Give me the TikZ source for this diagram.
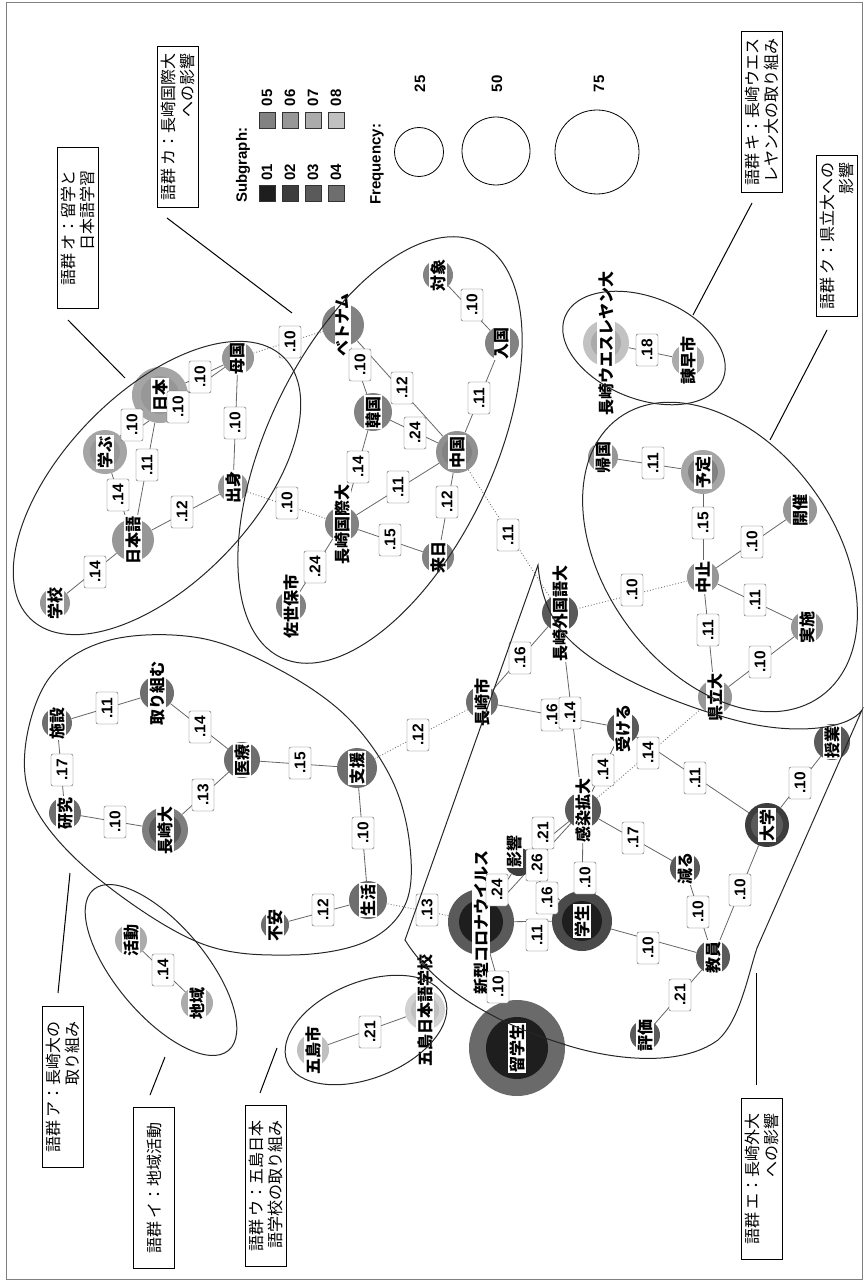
\documentclass[tikz,border=0pt]{standalone}
\usepackage{fontspec}
\newfontfamily\jp{Noto Sans CJK JP}
\newfontfamily\numf{Liberation Sans}
\usetikzlibrary{calc,backgrounds}
\definecolor{sg1}{HTML}{1E1E1E}
\definecolor{sg2}{HTML}{3D3D3D}
\definecolor{sg3}{HTML}{5A5A5A}
\definecolor{sg4}{HTML}{6E6E6E}
\definecolor{sg5}{HTML}{828282}
\definecolor{sg6}{HTML}{979797}
\definecolor{sg7}{HTML}{ABABAB}
\definecolor{sg8}{HTML}{C0C0C0}
\definecolor{hl2}{HTML}{4A4A4A}
\definecolor{hl3}{HTML}{6A6A6A}
\definecolor{hl4}{HTML}{7E7E7E}
\definecolor{hl5}{HTML}{909090}
\definecolor{hl6}{HTML}{A5A5A5}
\definecolor{hl7}{HTML}{C2C2C2}
\definecolor{hl8}{HTML}{D2D2D2}
\newcounter{elc}
\newcommand\kn[5]{\node[circle,fill=#4,inner sep=0pt,minimum size={2*#3pt}] (#1) at (#2) {};\node[nlbl] (#1-l) at (#2) {#5};}
\newcommand\kk[7]{\node[circle,fill=#4,inner sep=0pt,minimum size={2*#3pt}] (#1) at (#2) {};\node[circle,fill=#6,inner sep=0pt,minimum size={2*#5pt}] (#1-i) at (#2) {};\node[nlbl] (#1-l) at (#2) {#7};}
\newcommand\ed[5]{\begin{pgfonlayer}{background}\draw[#1] (#2) -- (#3);\end{pgfonlayer}\stepcounter{elc}\node[elbl] (el\arabic{elc}) at (#4) {#5};}
\begin{document}
\begin{tikzpicture}[x=1pt,y=-1pt,
 nlbl/.style={fill=white,inner sep=1pt,rotate=90,font=\jp\bfseries\fontsize{16}{16}\selectfont},
 elbl/.style={draw=black!65,fill=white,rounded corners=2pt,rotate=90,inner sep=1pt,minimum width=32pt,minimum height=22pt,font=\numf\bfseries\fontsize{15.5}{15.5}\selectfont},
 sol/.style={draw=black!60,line width=0.8pt},
 dotl/.style={draw=black!55,line width=0.9pt,dotted},
 hull/.style={draw=black!85,line width=1pt},
 anno/.style={draw=black,line width=0.8pt,fill=white,rotate=90,align=right,inner sep=2pt,minimum width=161pt,minimum height=41pt,font=\jp\fontsize{16}{19}\selectfont},
 lead/.style={draw=black,line width=1pt},
 lgd/.style={rotate=90,inner sep=0pt,font=\numf\bfseries\fontsize{15}{15}\selectfont},
 sq/.style={draw=black!80,line width=0.6pt,minimum size=16pt,inner sep=0pt},
 fc/.style={circle,draw=black,line width=0.8pt,inner sep=0pt}
]
\useasboundingbox (0,0) rectangle (864,1281);
\draw[black!50,line width=0.8pt] (6,2) rectangle (862,1279);

% ---------- nodes ----------
\kn{gakko}{55,603}{15}{sg6}{学校}
\kn{nihongo}{133,540}{21}{sg6}{日本語}
\kk{manabu}{105,452}{22}{hl6}{15}{sg6}{学ぶ}
\kk{nihon}{160,395}{28}{hl6}{19}{sg6}{日本}
\kn{bokoku}{238,358}{16}{sg6}{母国}
\kn{shusshin}{233,487}{15}{sg6}{出身}
\kn{vietnam}{343,325}{21}{sg5}{ベトナム}
\kn{taisho}{438,275}{15}{sg5}{対象}
\kn{nyukoku}{502,343}{17}{sg5}{入国}
\kn{kankoku}{373,412}{19}{sg5}{韓国}
\kk{chugoku}{457,452}{21}{hl5}{15}{sg5}{中国}
\kn{nkokusai}{342,524}{17}{sg5}{長崎国際大}
\kn{rainichi}{438,557}{16}{sg5}{来日}
\kn{sasebo}{291,606}{15}{sg5}{佐世保市}
\kk{wesleyan}{606,343}{23}{hl7}{15}{sg7}{長崎ウエスレヤン大}
\kn{isahaya}{688,360}{16}{sg7}{諫早市}
\kn{kikoku}{603,457}{15}{sg6}{帰国}
\kk{yotei}{703,472}{22}{hl6}{15}{sg5}{予定}
\kn{kaisai}{800,510}{17}{sg6}{開催}
\kn{chushi}{703,577}{16}{sg6}{中止}
\kn{jisshi}{807,627}{16}{sg6}{実施}
\kn{kenritsu}{715,697}{17}{sg6}{県立大}
\kn{gaidai}{560,613}{18}{sg3}{長崎外国語大}
\kn{nagasakishi}{482,702}{16}{sg4}{長崎市}
\kn{ukeru}{623,728}{16}{sg3}{受ける}
\kn{kansen}{583,810}{18}{sg3}{感染拡大}
\node[circle,fill=sg2,inner sep=0pt,minimum size=28pt] (eikyo) at (519,862) {};
\node[nlbl] (eikyo-l) at (514,851) {影響};
\kk{corona}{481,922}{33}{sg3}{22}{sg1}{新型コロナウイルス}
\kk{gakusei}{582,921}{30}{hl2}{20}{sg1}{学生}
\kk{ryugaku}{517,1048}{48}{hl3}{31}{sg1}{留学生}
\kn{heru}{685,868}{15}{sg3}{減る}
\kk{daigaku}{767,825}{22}{sg2}{16}{sg3}{大学}
\kn{jugyo}{832,742}{18}{sg3}{授業}
\kn{kyoin}{713,957}{17}{sg3}{教員}
\kn{hyoka}{645,1035}{15}{sg3}{評価}
\kn{shisetsu}{57,723}{15}{sg4}{施設}
\kn{torikumu}{157,693}{17}{sg4}{取り組む}
\kn{iryo}{242,760}{18}{sg4}{医療}
\kk{nagadai}{165,830}{23}{hl4}{16}{sg3}{長崎大}
\kn{kenkyu}{65,813}{16}{sg4}{研究}
\kn{shien}{357,768}{20}{sg4}{支援}
\kn{seikatsu}{368,900}{19}{sg4}{生活}
\kn{fuan}{275,925}{14}{sg4}{不安}
\kn{katsudo}{131,940}{16}{sg7}{活動}
\kn{chiiki}{197,1003}{16}{sg7}{地域}
\kn{gotoshi}{313,1050}{16}{sg8}{五島市}
\kk{gotojls}{425,1010}{20}{hl8}{14}{sg8}{五島日本語学校}

% ---------- edges ----------
\ed{sol}{gakko}{nihongo}{95,572}{.14}
\ed{sol}{nihongo}{manabu}{118,495}{.14}
\ed{sol}{nihongo}{nihon}{147,465}{.11}
\ed{sol}{manabu}{nihon}{132,425}{.10}
\ed{sol}{manabu}{bokoku}{178,407}{.10}
\ed{sol}{nihon}{bokoku}{200,377}{.10}
\ed{sol}{nihongo}{shusshin}{182,512}{.12}
\ed{sol}{shusshin}{bokoku}{235,423}{.10}
\ed{dotl}{shusshin}{nkokusai}{287,503}{.10}
\ed{dotl}{bokoku}{vietnam}{290,342}{.10}
\ed{sol}{taisho}{nyukoku}{472,305}{.10}
\ed{sol}{nyukoku}{chugoku}{479,398}{.11}
\ed{sol}{vietnam}{chugoku}{402,388}{.12}
\ed{sol}{vietnam}{kankoku}{360,365}{.10}
\ed{sol}{kankoku}{chugoku}{415,433}{.24}
\ed{sol}{kankoku}{nkokusai}{358,467}{.14}
\ed{sol}{nkokusai}{chugoku}{398,487}{.11}
\ed{sol}{chugoku}{rainichi}{447,502}{.12}
\ed{sol}{nkokusai}{rainichi}{390,540}{.15}
\ed{sol}{nkokusai}{sasebo}{315,567}{.24}
\ed{dotl}{chugoku}{gaidai}{508,535}{.11}
\ed{sol}{wesleyan}{isahaya}{647,350}{.18}
\ed{sol}{kikoku}{yotei}{653,463}{.11}
\ed{sol}{yotei}{chushi}{703,523}{.15}
\ed{sol}{chushi}{kaisai}{752,542}{.10}
\ed{sol}{chushi}{jisshi}{755,600}{.11}
\ed{sol}{chushi}{kenritsu}{708,630}{.11}
\ed{sol}{kenritsu}{jisshi}{760,662}{.10}
\ed{dotl}{chushi}{gaidai}{632,590}{.10}
\ed{sol}{nagasakishi}{gaidai}{520,658}{.16}
\ed{sol}{nagasakishi}{ukeru}{552,715}{.16}
\ed{sol}{gaidai}{kansen}{570,713}{.14}
\ed{dotl}{nagasakishi}{shien}{418,735}{.12}
\ed{sol}{ukeru}{kansen}{603,770}{.14}
\ed{dotl}{kansen}{kenritsu}{648,753}{.14}
\ed{sol}{ukeru}{daigaku}{695,778}{.11}
\ed{sol}{daigaku}{jugyo}{800,783}{.10}
\ed{sol}{kansen}{heru}{633,838}{.17}
\ed{sol}{kansen}{gakusei}{585,878}{.10}
\ed{sol}{heru}{kyoin}{698,912}{.10}
\ed{sol}{daigaku}{kyoin}{740,890}{.10}
\ed{sol}{gakusei}{kyoin}{648,948}{.10}
\ed{sol}{kyoin}{hyoka}{680,995}{.21}
\ed{sol}{eikyo}{kansen}{543,833}{.21}
\ed{sol}{corona}{kansen}{537,865}{.26}
\ed{sol}{corona}{eikyo}{497,890}{.24}
\ed{sol}{eikyo}{gakusei}{547,898}{.16}
\ed{sol}{corona}{gakusei}{537,935}{.11}
\ed{sol}{corona}{ryugaku}{498,987}{.10}
\ed{dotl}{corona}{seikatsu}{427,910}{.13}
\ed{sol}{shisetsu}{torikumu}{107,708}{.11}
\ed{sol}{shisetsu}{kenkyu}{62,770}{.17}
\ed{sol}{torikumu}{iryo}{200,727}{.14}
\ed{sol}{iryo}{nagadai}{203,795}{.13}
\ed{sol}{kenkyu}{nagadai}{115,822}{.10}
\ed{sol}{iryo}{shien}{300,763}{.15}
\ed{sol}{shien}{seikatsu}{363,833}{.10}
\ed{sol}{seikatsu}{fuan}{323,910}{.12}
\ed{sol}{katsudo}{chiiki}{163,970}{.14}
\ed{sol}{gotoshi}{gotojls}{370,1032}{.21}

% ---------- group outlines ----------
\draw[hull,rotate around={46:(157,488)}] (157,488) ellipse [x radius=182pt,y radius=95pt];
\draw[hull,rotate around={64.5:(380,450)}] (380,450) ellipse [x radius=230pt,y radius=113pt];
\draw[hull,rotate around={-21.5:(644,348)}] (644,348) ellipse [x radius=85pt,y radius=51pt];
\draw[hull,rotate around={-54:(720,557)}] (720,557) ellipse [x radius=172pt,y radius=115pt];
\draw[hull,rotate around={-50:(161,970)}] (161,970) ellipse [x radius=105pt,y radius=45pt];
\draw[hull,rotate around={22:(366,1030)}] (366,1030) ellipse [x radius=85pt,y radius=48pt];
\draw[hull] plot[smooth cycle,tension=0.6] coordinates {(25,750) (38,813) (100,880) (200,943) (290,955) (365,942) (405,905) (410,847) (392,780) (347,717) (280,670) (200,638) (110,640) (50,677)};
\draw[hull] (538,565) -- (405,940) .. controls (430,980) and (480,1018) .. (560,1043) .. controls (610,1060) and (680,1068) .. (718,1040) .. controls (740,1020) and (748,975) .. (757,948) -- (862,710) .. controls (850,728) and (800,735) .. (747,723) .. controls (690,710) and (600,675) .. (565,635) .. controls (548,615) and (540,590) .. (538,565) -- cycle;

% ---------- annotation boxes ----------
\node[anno] (aO) at (78,228) {語群 オ：留学と\\日本語学習};
\node[anno] (aKa) at (178,127) {語群 カ：長崎国際大\\への影響};
\node[anno] (aKi) at (762,112) {語群 キ：長崎ウエス\\レヤン大の取り組み};
\node[anno] (aKu) at (837,236) {語群 ク：県立大への\\影響};
\node[anno] (aA) at (63,1087) {語群 ア：長崎大の\\取り組み};
\node[anno] (aI) at (154,1188) {語群 イ：地域活動};
\node[anno] (aU) at (266,1186) {語群 ウ：五島日本\\語学校の取り組み};
\node[anno] (aE) at (762,1179) {語群 エ：長崎外大\\への影響};
\coordinate (lO1) at (68,320); \coordinate (lO2) at (125,378);
\coordinate (lKa1) at (167,218); \coordinate (lKa2) at (292,313);
\coordinate (lKi1) at (752,203); \coordinate (lKi2) at (693,315);
\coordinate (lKu1) at (827,330); \coordinate (lKu2) at (770,440);
\coordinate (lA1) at (58,993); \coordinate (lA2) at (70,873);
\coordinate (lI1) at (150,1095); \coordinate (lI2) at (165,1057);
\coordinate (lU1) at (260,1093); \coordinate (lU2) at (277,1048);
\coordinate (lE1) at (756,1085); \coordinate (lE2) at (756,973);
\draw[lead] (lO1) -- (lO2);
\draw[lead] (lKa1) -- (lKa2);
\draw[lead] (lKi1) -- (lKi2);
\draw[lead] (lKu1) -- (lKu2);
\draw[lead] (lA1) -- (lA2);
\draw[lead] (lI1) -- (lI2);
\draw[lead] (lU1) -- (lU2);
\draw[lead] (lE1) -- (lE2);

% ---------- legend ----------
\node[lgd,anchor=west] (subg) at (243,203) {Subgraph:};
\node[sq,fill=sg1] (q1) at (267,193) {};
\node[sq,fill=sg2] (q2) at (290,193) {};
\node[sq,fill=sg3] (q3) at (313,193) {};
\node[sq,fill=sg4] (q4) at (336,193) {};
\node[sq,fill=sg5] (q5) at (267,120) {};
\node[sq,fill=sg6] (q6) at (290,120) {};
\node[sq,fill=sg7] (q7) at (313,120) {};
\node[sq,fill=sg8] (q8) at (336,120) {};
\node[lgd] (t1) at (267,172) {01};
\node[lgd] (t2) at (290,172) {02};
\node[lgd] (t3) at (313,172) {03};
\node[lgd] (t4) at (336,172) {04};
\node[lgd] (t5) at (267,98) {05};
\node[lgd] (t6) at (290,98) {06};
\node[lgd] (t7) at (313,98) {07};
\node[lgd] (t8) at (336,98) {08};
\node[lgd,anchor=west] (freq) at (377,205) {Frequency:};
\node[fc,minimum size=49pt] (f25) at (419,152) {};
\node[fc,minimum size=68pt] (f50) at (496,151) {};
\node[fc,minimum size=84pt] (f75) at (597,152) {};
\node[lgd] (f25t) at (420,84) {25};
\node[lgd] (f50t) at (497,84) {50};
\node[lgd] (f75t) at (599,84) {75};
\end{tikzpicture}
\end{document}
